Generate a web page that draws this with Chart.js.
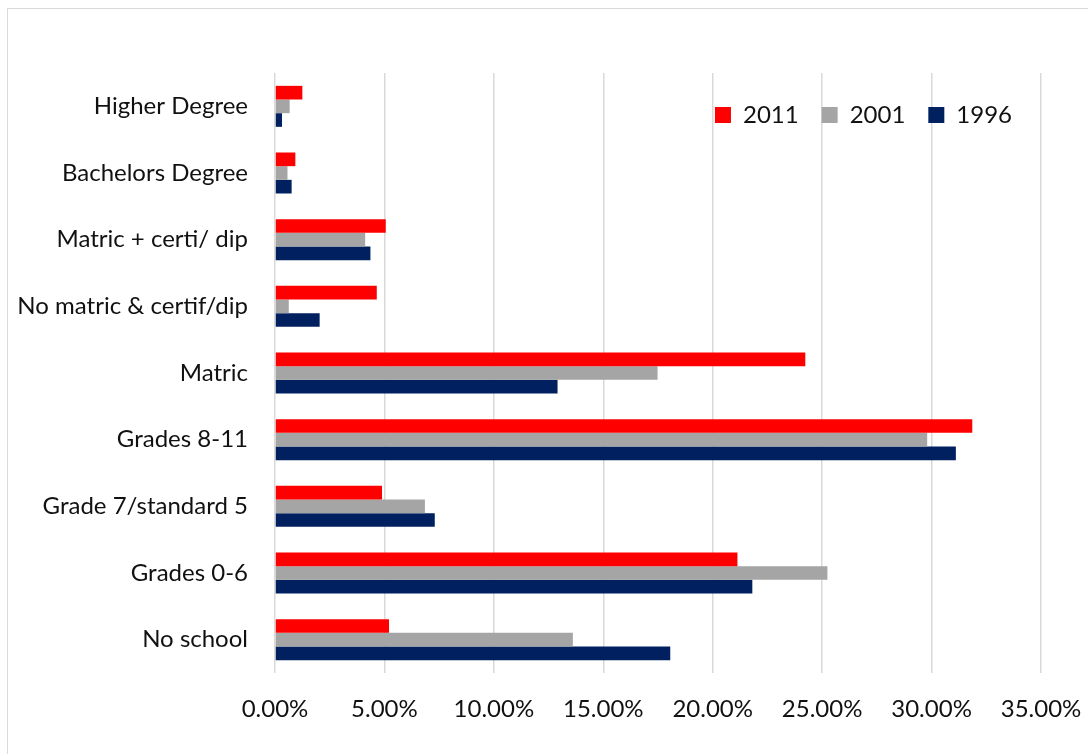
<!DOCTYPE html>
<html lang="en">
<head>
    <meta charset="UTF-8">
    <title>Highest level of education</title>
    <script src="https://cdn.jsdelivr.net/npm/chart.js"></script>
    <style>
        html, body { margin: 0; padding: 0; background: #fff; }
        #wrap { position: relative; width: 1088px; height: 754px; overflow: hidden; }
        #frame { position: absolute; left: 7px; top: 8px; width: 1200px; height: 900px; border: 1px solid #d9d9d9; box-sizing: border-box; }
        #chart { position: absolute; left: 0; top: 0; }
    </style>
</head>
<body>
    <div id="wrap">
        <div id="frame"></div>
        <canvas id="chart" width="1088" height="754"></canvas>
    </div>

    <script>
        // categories, top to bottom
        const categories = [
            'Higher Degree',
            'Bachelors Degree',
            'Matric + certi/ dip',
            'No matric & certif/dip',
            'Matric',
            'Grades 8-11',
            'Grade 7/standard 5',
            'Grades 0-6',
            'No school'
        ];

        // values in percent
        const values2011 = [1.25, 0.93, 5.06, 4.65, 24.23, 31.86, 4.89, 21.13, 5.21];
        const values2001 = [0.67, 0.57, 4.12, 0.63, 17.48, 29.80, 6.85, 25.24, 13.61];
        const values1996 = [0.32, 0.76, 4.36, 2.04, 12.91, 31.11, 7.30, 21.81, 18.06];

        const xTicks = [0, 5, 10, 15, 20, 25, 30, 35];

        const font = { family: 'Lato, Carlito, sans-serif', size: 24 };
        const legendPad = 23;

        // legend sits inside the plot area, top right, like the original
        const moveLegend = {
            id: 'moveLegend',
            afterLayout(chart) {
                const lg = chart.legend;
                const h = lg.bottom - lg.top;
                lg.top = 115 - 12 - legendPad;
                lg.bottom = lg.top + h;
                const w = lg.right - lg.left;
                lg.right = 1012 + legendPad;
                lg.left = lg.right - w;
            }
        };

        new Chart(document.getElementById('chart'), {
            type: 'bar',
            data: {
                labels: categories,
                datasets: [
                    { label: '2011', data: values2011, backgroundColor: '#ff0000' },
                    { label: '2001', data: values2001, backgroundColor: '#a5a5a5' },
                    { label: '1996', data: values1996, backgroundColor: '#002060' }
                ]
            },
            options: {
                indexAxis: 'y',
                responsive: false,
                animation: false,
                maintainAspectRatio: false,
                layout: { padding: { top: 16, right: 47, left: 0, bottom: 0 } },
                datasets: {
                    bar: { barPercentage: 1, categoryPercentage: 0.615 }
                },
                scales: {
                    x: {
                        min: xTicks[0],
                        max: xTicks[xTicks.length - 1],
                        afterBuildTicks: axis => { axis.ticks = xTicks.map(v => ({ value: v })); },
                        afterFit: axis => {
                            axis.height = 81;
                            axis.paddingLeft = 0;
                            axis.paddingRight = 0;
                        },
                        grid: { color: '#d9d9d9', lineWidth: 1.5, drawTicks: false },
                        border: { display: false },
                        ticks: {
                            font: font,
                            color: '#111',
                            padding: 22,
                            maxRotation: 0,
                            callback: v => v.toFixed(2) + '%'
                        }
                    },
                    y: {
                        afterFit: axis => { axis.width = 275; },
                        grid: { display: false, drawTicks: false },
                        border: { display: false },
                        ticks: { font: font, color: '#111', padding: 27 }
                    }
                },
                plugins: {
                    tooltip: { enabled: false },
                    legend: {
                        position: 'top',
                        align: 'end',
                        labels: {
                            font: font,
                            color: '#111',
                            boxWidth: 16,
                            boxHeight: 16,
                            padding: legendPad
                        }
                    }
                }
            },
            plugins: [moveLegend]
        });
    </script>
</body>
</html>
